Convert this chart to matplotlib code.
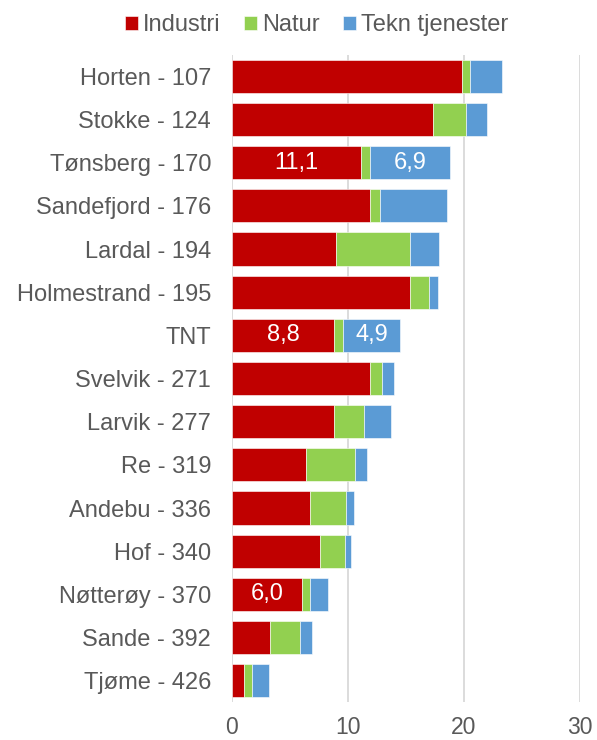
import matplotlib.pyplot as plt
import numpy as np

plt.rcParams['font.family'] = ['Liberation Sans', 'DejaVu Sans']

# data
kommuner = ["Horten - 107", "Stokke - 124", "Tønsberg - 170", "Sandefjord - 176",
            "Lardal - 194", "Holmestrand - 195", "TNT", "Svelvik - 271",
            "Larvik - 277", "Re - 319", "Andebu - 336", "Hof - 340",
            "Nøtterøy - 370", "Sande - 392", "Tjøme - 426"]
industri = [19.8, 17.3, 11.1, 11.9, 9.0, 15.3, 8.8, 11.9, 8.8, 6.4, 6.7, 7.6, 6.0, 3.3, 1.05]
natur = [0.7, 2.9, 0.8, 0.9, 6.3, 1.7, 0.8, 1.0, 2.6, 4.2, 3.1, 2.1, 0.7, 2.6, 0.7]
tekn = [2.8, 1.8, 6.9, 5.7, 2.5, 0.75, 4.9, 1.1, 2.3, 1.0, 0.7, 0.55, 1.6, 1.0, 1.4]

# which segments carry a value label
labelled = {"Tønsberg - 170": ("ind", "tek"), "TNT": ("ind", "tek"), "Nøtterøy - 370": ("ind",)}

RED, GREEN, BLUE = "#C00000", "#92D050", "#5B9BD5"
TXT = "#595959"

fig = plt.figure(figsize=(5.97, 7.40), dpi=100)
ax = fig.add_axes([0.3886, 0.051, 0.583, 0.875])

y = np.arange(len(kommuner))
ind = np.array(industri)
nat = np.array(natur)
tek = np.array(tekn)
h = 0.77
kw = dict(height=h, edgecolor="white", linewidth=0.4, zorder=3)
b1 = ax.barh(y, ind, color=RED, label="Industri", **kw)
b2 = ax.barh(y, nat, left=ind, color=GREEN, label="Natur", **kw)
b3 = ax.barh(y, tek, left=ind + nat, color=BLUE, label="Tekn tjenester", **kw)

for i, name in enumerate(kommuner):
    segs = labelled.get(name, ())
    if "ind" in segs:
        ax.text(ind[i] / 2, i, f"{ind[i]:.1f}".replace(".", ","), ha="center", va="center",
                color="white", fontsize=17, zorder=4)
    if "tek" in segs:
        ax.text(ind[i] + nat[i] + tek[i] / 2, i, f"{tek[i]:.1f}".replace(".", ","),
                ha="center", va="center", color="white", fontsize=17, zorder=4)

ax.set_xlim(0, 30)
ax.set_ylim(len(kommuner) - 0.5, -0.5)
ax.set_xticks([0, 10, 20, 30])
ax.set_yticks(y)
ax.set_yticklabels(kommuner)
ax.tick_params(axis="y", length=0, labelsize=17, colors=TXT, pad=15)
ax.tick_params(axis="x", length=0, labelsize=16.5, colors=TXT, pad=10)
ax.xaxis.grid(True, color="#D9D9D9", linewidth=1.3, zorder=0)
for s in ax.spines.values():
    s.set_visible(False)

fig.legend(handles=[b1, b2, b3], loc="center", bbox_to_anchor=(0.53, 0.966), ncol=3,
           frameon=False, fontsize=17, labelcolor=TXT, handlelength=0.55, handleheight=0.55,
           handletextpad=0.2, columnspacing=1.0)

fig.savefig("out.png", dpi=100, facecolor="white")
